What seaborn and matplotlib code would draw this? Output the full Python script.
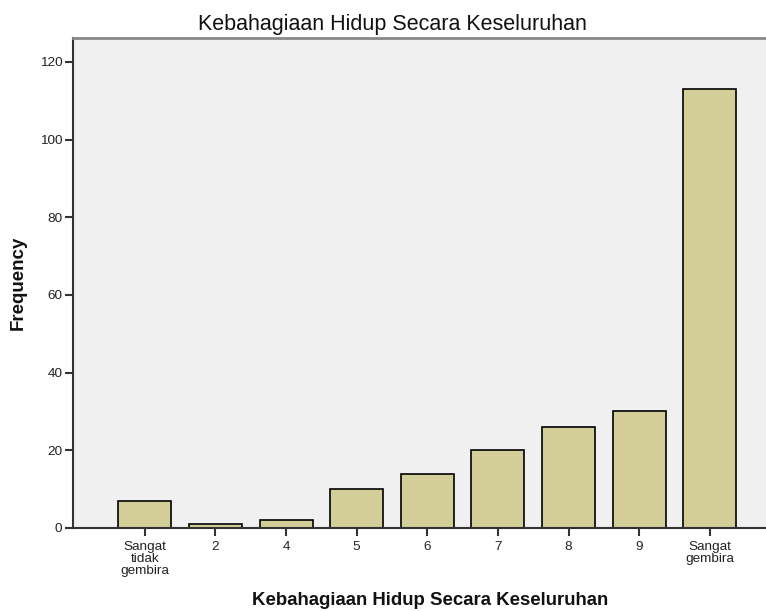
import pandas as pd
import numpy as np
import matplotlib
matplotlib.use('Agg')
import matplotlib.pyplot as plt
import seaborn as sns

# Data
categories = ['Sangat\ntidak\ngembira', '2', '4', '5', '6', '7', '8', '9', 'Sangat\ngembira']
frequency = [7, 1, 2, 10, 14, 20, 26, 30, 113]
y_ticks = [0, 20, 40, 60, 80, 100, 120]

df = pd.DataFrame({'cat': categories, 'freq': frequency})

sns.set_style('white')
plt.rcParams['font.family'] = ['Liberation Sans', 'DejaVu Sans']

fig = plt.figure(figsize=(7.66, 6.11), dpi=100)
ax = fig.add_axes([0.095, 0.136, 0.91, 0.802])
ax.set_facecolor('#f0f0f0')

sns.barplot(data=df, x='cat', y='freq', order=categories, color='#d3ce97',
            saturation=1, width=0.75, edgecolor='black', linewidth=1.2, ax=ax)

ax.set_xlim(-1.02, 8.85)
ax.set_ylim(0, 126.2)
ax.set_yticks(y_ticks)

ax.tick_params(axis='both', direction='out', length=6, width=1.5, color='#333333',
               labelsize=9.7, labelcolor='#222222', bottom=True, left=True)
ax.tick_params(axis='x', pad=3.5)
ax.tick_params(axis='y', pad=1.5)
for lab in ax.get_xticklabels():
    lab.set_linespacing(1.02)

for side in ['left', 'bottom']:
    ax.spines[side].set_color('#333333')
    ax.spines[side].set_linewidth(1.5)
ax.spines['top'].set_color('#888888')
ax.spines['top'].set_linewidth(2)
ax.spines['right'].set_visible(False)

ax.set_title('Kebahagiaan Hidup Secara Keseluruhan', fontsize=15.5, pad=5.5, x=0.458,
             color='#111111')
ax.set_xlabel('Kebahagiaan Hidup Secara Keseluruhan', fontsize=13.4, fontweight='bold',
              color='#111111')
ax.xaxis.label.set_va('baseline')
ax.xaxis.set_label_coords(0.512, -0.158)
ax.set_ylabel('Frequency', fontsize=13.5, fontweight='bold', color='#111111')
ax.yaxis.set_label_coords(-0.066, 0.5)

fig.savefig('out.png', dpi=100)
